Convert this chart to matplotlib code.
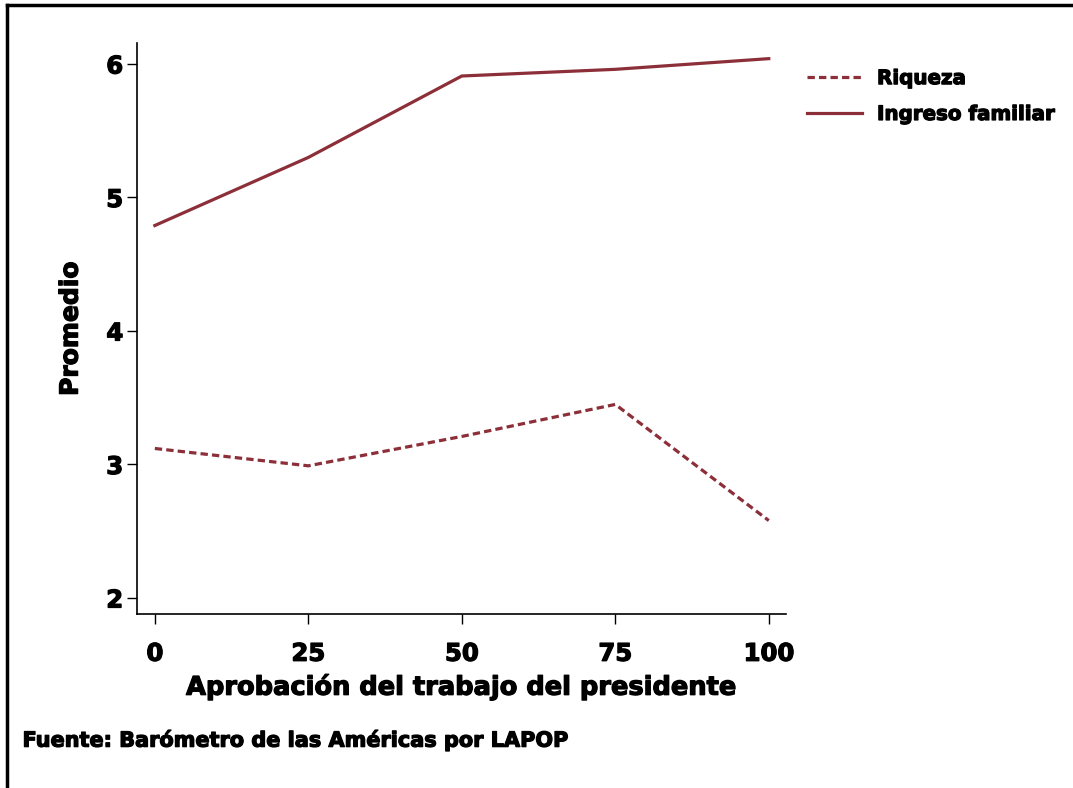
import matplotlib
matplotlib.use("Agg")
import matplotlib.pyplot as plt
import matplotlib.patheffects as pe
from matplotlib.lines import Line2D

plt.rcParams['font.family'] = ['DejaVu Sans']
plt.rcParams['font.weight'] = 'bold'

# data
aprobacion = [0, 25, 50, 75, 100]
riqueza = [3.12, 2.99, 3.21, 3.45, 2.58]
ingreso = [4.79, 5.30, 5.91, 5.96, 6.04]
xticks = [0, 25, 50, 75, 100]
yticks = [2, 3, 4, 5, 6]

color = '#8c2f39'
heavy = [pe.withStroke(linewidth=0.9, foreground='black')]

fig = plt.figure(figsize=(10.73, 7.88), dpi=100)
ax = fig.add_axes([0.1277, 0.2208, 0.6048, 0.7246])

ax.plot(aprobacion, riqueza, color=color, lw=2.3, ls=(0, (2.3, 1.3)), label='Riqueza')
ax.plot(aprobacion, ingreso, color=color, lw=2.3, label='Ingreso familiar')

ax.set_xlim(-2.9, 102.8)
ax.set_ylim(1.88, 6.157)
ax.set_xticks(xticks)
ax.set_yticks(yticks)
ax.tick_params(labelsize=17.5, length=7, width=1)
ax.tick_params(axis='x', pad=13)
ax.tick_params(axis='y', pad=3)
for lab in ax.get_xticklabels() + ax.get_yticklabels():
    lab.set_fontweight('bold')
    lab.set_path_effects(heavy)
for s in ['top', 'right']:
    ax.spines[s].set_visible(False)
for s in ['left', 'bottom']:
    ax.spines[s].set_linewidth(1.2)

ax.set_xlabel('Aprobación del trabajo del presidente', fontsize=18.5, fontweight='bold',
              labelpad=5, path_effects=heavy)
ax.set_ylabel('Promedio', fontsize=18, fontweight='bold', labelpad=17, path_effects=heavy)

leg = fig.legend(loc='upper left', bbox_to_anchor=(0.735, 0.935), frameon=False,
                 prop={'size': 14.3, 'weight': 'bold'}, handlelength=2.8,
                 handletextpad=0.75, labelspacing=0.85)
for t in leg.get_texts():
    t.set_path_effects(heavy)

fig.text(0.021, 0.061, 'Fuente: Barómetro de las Américas por LAPOP',
         fontsize=15, fontweight='bold', ha='left', va='center', path_effects=heavy)

# frame lines at top and left
fig.add_artist(Line2D([0.0065, 1.0], [0.9935, 0.9935], color='black', lw=2.5, transform=fig.transFigure))
fig.add_artist(Line2D([0.0065, 0.0065], [0.0, 0.9935], color='black', lw=2.5, transform=fig.transFigure))

fig.savefig('out.png', dpi=100)
